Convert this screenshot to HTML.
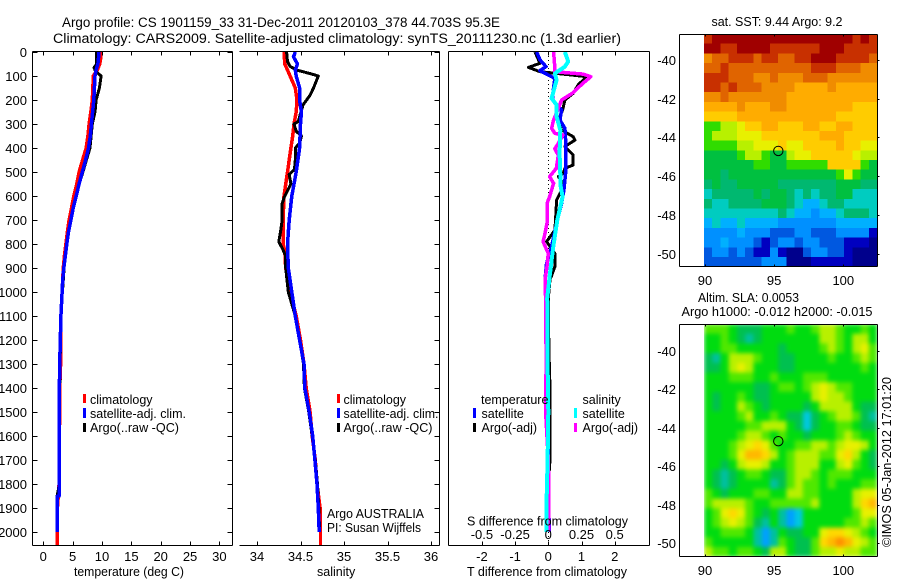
<!DOCTYPE html>
<html lang="en">
<head>
<meta charset="utf-8">
<title>Argo profile 1901159_33</title>
<style>
html,body{margin:0;padding:0;background:#fff;}
svg{display:block;}
text{font-family:"Liberation Sans",Arial,sans-serif;fill:#000;}
.t{font-size:13.5px;}
.a{font-size:13px;}
.l{font-size:12.5px;}
</style>
</head>
<body>
<svg id="chart" width="900" height="580" viewBox="0 0 900 580" xmlns="http://www.w3.org/2000/svg">
<defs>
<clipPath id="slaClip"><rect x="704" y="324" width="173" height="232.7"/></clipPath>
<filter id="slaSmooth" x="-5%" y="-5%" width="110%" height="110%" color-interpolation-filters="sRGB"><feGaussianBlur stdDeviation="2.2"/></filter>
</defs>
<rect x="0" y="0" width="900" height="580" fill="#fff"/>
<text class="t" x="62" y="27" textLength="438" lengthAdjust="spacingAndGlyphs">Argo profile: CS 1901159_33 31-Dec-2011 20120103_378 44.703S 95.3E</text>
<text class="t" x="53" y="43" textLength="568" lengthAdjust="spacingAndGlyphs">Climatology: CARS2009. Satellite-adjusted climatology: synTS_20111230.nc (1.3d earlier)</text>

<g id="heat"></g>
<g id="series"></g>
<g id="axes" stroke="#000" stroke-width="1" shape-rendering="crispEdges" fill="none"></g>
<g id="labels"></g>

<g>
<rect x="83" y="394" width="3" height="9" fill="#ff0000"/>
<rect x="83" y="408" width="3" height="10" fill="#0000ff"/>
<rect x="83" y="423" width="3" height="9" fill="#000"/>
<text class="l" x="90" y="404">climatology</text>
<text class="l" x="90" y="418" textLength="96" lengthAdjust="spacingAndGlyphs">satellite-adj. clim.</text>
<text class="l" x="90" y="432" textLength="89" lengthAdjust="spacingAndGlyphs">Argo(..raw -QC)</text>
</g>
<g>
<rect x="337" y="394" width="3" height="9" fill="#ff0000"/>
<rect x="337" y="408" width="3" height="10" fill="#0000ff"/>
<rect x="337" y="423" width="3" height="9" fill="#000"/>
<text class="l" x="343.5" y="404">climatology</text>
<text class="l" x="343.5" y="418" textLength="95" lengthAdjust="spacingAndGlyphs">satellite-adj. clim.</text>
<text class="l" x="343.5" y="432" textLength="89" lengthAdjust="spacingAndGlyphs">Argo(..raw -QC)</text>
<text class="l" x="327" y="518" textLength="97" lengthAdjust="spacingAndGlyphs">Argo AUSTRALIA</text>
<text class="l" x="327" y="532" textLength="94" lengthAdjust="spacingAndGlyphs">PI: Susan Wijffels</text>
</g>
<g>
<text class="l" x="481" y="404">temperature</text>
<text class="l" x="582.5" y="404">salinity</text>
<rect x="473" y="408" width="3" height="10" fill="#0000ff"/>
<rect x="473" y="423" width="3" height="9" fill="#000"/>
<rect x="574" y="408" width="3" height="10" fill="#00ffff"/>
<rect x="574" y="423" width="3" height="9" fill="#ff00ff"/>
<text class="l" x="481.5" y="418">satellite</text>
<text class="l" x="481.5" y="432">Argo(-adj)</text>
<text class="l" x="582.5" y="418">satellite</text>
<text class="l" x="582.5" y="432">Argo(-adj)</text>
<text class="l" x="467" y="525.5" textLength="161" lengthAdjust="spacingAndGlyphs">S difference from climatology</text>
</g>

<text class="l" x="74" y="576" textLength="110" lengthAdjust="spacingAndGlyphs">temperature (deg C)</text>
<text class="l" x="317" y="576">salinity</text>
<text class="l" x="467" y="576" textLength="160" lengthAdjust="spacingAndGlyphs">T difference from climatology</text>

<text class="l" x="711.5" y="26" textLength="131" lengthAdjust="spacingAndGlyphs">sat. SST: 9.44  Argo: 9.2</text>
<text class="l" x="698" y="302" textLength="101" lengthAdjust="spacingAndGlyphs">Altim. SLA: 0.0053</text>
<text class="l" x="681.5" y="316" textLength="191" lengthAdjust="spacingAndGlyphs">Argo h1000: -0.012 h2000: -0.015</text>
<text class="l" transform="translate(891,547) rotate(-90)" textLength="170" lengthAdjust="spacingAndGlyphs">©IMOS 05-Jan-2012 17:01:20</text>
</svg>

<script>
// ---- Profile data (depth in m) ----
const tempClimDepth = [0,25,50,75,100,150,200,250,300,350,400,450,500,550,600,650,700,750,800,850,900,950,1000,1100,1200,1300,1400,1500,1600,1700,1800,1900,2000,2054];
const tempClim = [9.8,9.8,9.6,9.2,8.5,8.45,8.35,8.1,7.8,7.6,7.3,6.7,6.1,5.7,5.2,4.8,4.4,4.1,3.85,3.6,3.4,3.3,3.2,3.0,2.95,2.95,2.8,2.85,2.7,2.7,2.7,2.4,2.4,2.4];
const tempSatDepth = [0,25,50,75,100,150,200,250,300,350,400,450,500,550,600,650,700,750,800,850,900,950,1000,1100,1200,1300,1400,1500,1600,1700,1850,1851,2000];
const tempSat = [9.4,9.4,9.3,9.0,8.8,8.7,8.6,8.4,8.2,8.0,7.7,7.2,6.65,6.1,5.6,5.1,4.7,4.3,4.0,3.75,3.5,3.3,3.2,3.0,2.9,2.8,2.75,2.7,2.7,2.7,2.7,2.4,2.4];
const tempArgoDepth = [0,50,65,80,100,150,200,250,300,350,400,450,500,550,600,650,700,750,800,850,900,950,1000,1100,1200,1300,1400,1500,1600,1700,1800,1850,1900,2000];
const tempArgo = [9.1,9.1,8.65,8.9,9.85,9.55,9.0,8.8,8.35,8.15,7.95,7.35,6.75,6.1,5.55,5.1,4.7,4.3,4.0,3.75,3.55,3.4,3.25,3.0,2.95,2.85,2.8,2.8,2.8,2.75,2.75,2.35,2.4,2.4];

const salClimDepth = [0,50,75,100,150,200,250,300,350,400,500,600,700,800,830,900,1000,1100,1200,1300,1400,1500,1600,1700,1800,1900,2000,2054];
const salClim = [34.31,34.32,34.35,34.38,34.44,34.46,34.45,34.425,34.41,34.39,34.35,34.31,34.3,34.3,34.32,34.33,34.38,34.45,34.5,34.54,34.565,34.61,34.635,34.67,34.69,34.725,34.73,34.73];
const salSatDepth = [0,20,50,75,100,150,200,250,300,400,500,600,700,800,900,1000,1100,1200,1300,1400,1500,1600,1700,1800,1900,2000];
const salSat = [34.44,34.42,34.465,34.44,34.45,34.49,34.49,34.51,34.5,34.49,34.45,34.4,34.37,34.35,34.36,34.4,34.44,34.49,34.54,34.55,34.6,34.64,34.665,34.69,34.705,34.715];
const salArgoDepth = [0,40,60,75,90,100,150,180,200,220,250,290,300,330,350,380,400,450,490,510,550,600,630,700,750,790,825,850,900,1000,1100,1200,1300,1400,1500,1600,1700,1800,1900,2000];
const salArgo = [34.34,34.35,34.38,34.455,34.61,34.705,34.65,34.61,34.57,34.53,34.505,34.475,34.425,34.45,34.51,34.49,34.44,34.44,34.43,34.37,34.39,34.32,34.29,34.29,34.27,34.25,34.3,34.33,34.33,34.36,34.44,34.49,34.535,34.545,34.595,34.635,34.67,34.695,34.71,34.72];

const diffTArgoDepth = [0,47,64,82,89,103,137,172,200,242,269,290,325,353,367,394,429,471,485,505,519,547,575,617,672,742,790,839,894,950,1026,1100,1300,1400,1600,1700,1800,2000];
const diffTArgo = [-0.4,-0.25,-0.6,-0.25,0.25,1.15,0.9,0.75,0.5,0.43,0.35,0.3,0.4,0.75,0.8,0.5,0.75,0.75,0.5,0.45,0.3,0.45,0.4,0.25,0.23,0.2,-0.05,0.2,0.2,0.05,0,0,0.03,0.05,0.05,0.05,0,0.03];
const diffTSatDepth = [0,33,61,78,110,158,200,242,283,318,367,505,575,631,714,811,881,950,1026,1200,1500,1800,2000];
const diffTSat = [-0.35,-0.25,-0.07,-0.25,0.2,0.15,0.13,0.4,0.35,0.5,0.52,0.52,0.47,0.4,0.25,0.1,-0.05,-0.1,-0.07,-0.03,0,0,0.03];
const diffSArgoDepth = [0,68,82,92,103,131,172,200,235,283,318,339,346,381,403,431,485,519,547,603,631,714,769,790,839,894,950,1026,1100,1300,1400,1500,1700,1850,2000];
const diffSArgo = [0.04,0.05,0.05,0.26,0.32,0.26,0.18,0.1,0.075,0.04,0.025,0.05,0.11,0.075,0.05,0.075,0.06,0.01,0.04,0.01,-0.01,-0.01,-0.03,-0.04,0,-0.01,-0.025,-0.02,-0.02,-0.015,-0.02,-0.02,0,0.005,0.005];
const diffSSatDepth = [0,40,61,89,117,193,221,269,325,422,561,603,700,811,922,1026,1100,1300,1500,1700,1850,2000];
const diffSSat = [0.125,0.15,0.125,0.05,0.0625,0.025,0.0625,0.0625,0.09,0.085,0.093,0.108,0.068,0.038,0.013,-0.008,-0.005,-0.005,0,-0.005,-0.012,-0.012];

// ---- Tick labels ----
const depthTicks = [0,100,200,300,400,500,600,700,800,900,1000,1100,1200,1300,1400,1500,1600,1700,1800,1900,2000];
const tempTicks = [0,5,10,15,20,25,30];
const salTicks = [34,34.5,35,35.5,36];
const salTickLabels = ['34','34.5','35','35.5','36'];
const diffTTicks = [-2,-1,0,1,2];
const diffSTicks = [-0.5,-0.25,0,0.25,0.5];
const lonTicks = [90,95,100];
const latTicks = [-40,-42,-44,-46,-48,-50];
const floatPosition = [95.3,-44.7];

// ---- Map grids: colour level per cell, rows north to south, columns west to east ----
const sstGrid = [
[15,16,16,16,16,16,16,16,16,16,16,16,16,16,16,16,16,16,15,16,15],
[16,16,15,15,16,16,16,16,15,15,15,15,15,15,16,16,16,15,15,15,15],
[13,14,14,15,15,15,14,15,15,14,14,15,15,16,16,16,15,15,15,15,14],
[14,14,15,14,14,14,14,14,14,14,14,14,14,15,15,15,14,14,14,13,13],
[15,15,15,14,14,14,13,13,14,13,13,13,14,14,14,13,13,13,13,13,13],
[15,15,14,15,14,14,14,13,13,13,13,12,12,12,12,13,12,12,12,12,12],
[13,13,14,13,13,13,13,13,13,13,12,12,12,12,12,12,12,12,12,12,12],
[12,12,12,12,13,12,12,12,13,13,12,12,12,12,12,12,12,12,11,11,11],
[11,11,11,11,12,12,12,12,12,12,12,12,12,12,12,12,11,11,11,11,11],
[8,8,9,9,10,11,11,12,12,11,11,11,12,12,11,11,12,12,11,11,11],
[8,9,9,9,10,10,10,11,11,11,11,11,11,11,12,12,12,11,11,11,11],
[8,8,8,8,9,9,10,10,10,11,10,10,11,11,11,11,12,11,11,10,10],
[7,7,7,7,8,9,9,8,7,7,9,10,10,11,11,11,11,11,10,9,9],
[7,7,7,7,7,7,8,8,7,7,8,8,8,8,8,11,11,11,11,8,7],
[7,7,6,7,7,7,7,7,7,7,7,7,7,7,7,7,8,10,8,7,7],
[6,7,6,6,7,7,7,7,7,6,6,6,6,6,6,6,7,7,7,6,6],
[5,6,6,6,6,6,7,6,7,7,6,5,6,5,6,6,7,7,5,5,5],
[6,5,5,6,6,6,6,7,7,7,6,5,4,4,5,6,6,5,5,5,5],
[5,5,5,5,5,5,5,5,5,6,5,4,4,3,4,4,5,6,6,6,5],
[4,5,4,4,5,4,4,4,4,3,3,3,3,3,3,3,4,4,4,4,4],
[3,3,3,3,4,3,3,3,2,2,2,3,3,2,2,2,3,3,3,3,1],
[3,3,4,3,3,3,2,1,2,3,3,2,3,3,2,2,2,1,1,1,0],
[2,3,3,2,3,2,1,1,3,1,0,0,2,3,3,2,2,1,0,0,0],
[2,2,2,2,2,2,2,3,3,3,0,0,0,1,1,1,1,1,0,0,0]
];
const slaGrid = [
[8,8,8,7,6,6,6,7,7,7,8,7,7,8,9,9,8,7,7,8,7],
[7,7,8,7,6,5,6,7,7,7,7,7,7,7,9,9,8,7,9,9,7],
[7,7,8,8,7,7,7,7,7,6,7,7,7,7,8,9,8,7,9,10,8],
[6,5,7,9,9,9,8,7,7,6,6,7,7,7,7,8,7,7,8,9,8],
[6,6,7,9,10,9,7,7,7,6,6,7,7,7,7,7,7,7,7,8,7],
[7,7,7,8,8,8,7,7,8,7,7,7,8,8,8,7,7,7,7,7,7],
[7,7,7,7,7,7,6,6,7,8,8,7,8,9,10,9,8,8,7,7,7],
[7,6,7,7,8,7,6,6,7,7,7,7,7,9,10,9,9,8,7,7,7],
[7,6,7,7,9,8,7,6,7,7,7,7,6,7,9,9,9,9,7,6,6],
[7,7,7,7,8,9,7,7,8,7,6,6,4,6,7,8,9,9,8,6,5],
[7,7,7,7,7,8,8,9,9,9,7,6,4,6,7,7,8,8,7,6,6],
[7,7,7,7,8,9,9,8,7,8,7,7,6,7,7,7,8,9,8,7,7],
[7,7,7,8,9,10,11,10,8,7,7,8,8,9,9,8,9,10,10,9,7],
[7,7,7,8,10,12,12,11,9,7,8,9,9,9,8,8,10,11,9,7,6],
[7,7,6,7,9,10,10,9,7,7,8,9,9,9,7,7,9,10,8,7,6],
[7,6,5,6,7,8,8,7,6,6,8,9,9,8,7,8,8,8,7,7,7],
[7,6,5,6,7,7,7,7,5,6,8,9,8,8,7,8,7,7,7,8,8],
[8,7,6,7,7,7,8,8,7,7,9,9,8,8,7,7,7,7,9,10,10],
[8,9,9,9,9,8,7,7,8,8,8,8,8,9,7,7,7,7,9,11,12],
[7,8,10,11,10,8,7,6,7,5,2,4,7,7,7,7,7,7,8,10,10],
[7,8,9,10,9,8,6,5,7,5,2,4,7,7,7,7,7,8,8,9,8],
[7,7,8,8,8,7,5,2,5,7,6,6,7,7,10,11,11,10,9,8,7],
[8,7,7,7,7,7,5,2,5,8,7,6,6,8,11,12,13,12,10,9,8],
[9,8,8,7,8,8,7,6,9,9,7,6,6,8,9,9,10,9,9,8,8]
];
const sstPalette = ['#00008c','#0000c0','#0058e0','#0090ff','#00b0ff','#00ccc0','#00b870','#00c040','#30dc00','#b8f000','#e8f000','#ffcc00','#ffac00','#f08c00','#e06400','#c83000','#a00000'];
const slaPalette = ['#00008c','#0000c0','#00a0ff','#00b8ff','#00c8e0','#00c0a0','#00c050','#00dc10','#50e800','#b8f000','#e8f000','#ffd800','#ffb800','#ff9000','#d85800','#c02800','#a00000'];

// ---- Axis functions ----
const depthY = d => 52 + 0.24 * d;
const tempX = t => 43.3 + 5.87 * t;
const salX = s => 257 + 87 * (s - 34);
const diffTX = t => 548.3 + 33.2 * t;
const diffSX = s => 548.3 + 132.8 * s;
const lonX = lon => 705 + 13.83 * (lon - 90);
const sstLatY = lat => 60 + 19.35 * (-40 - lat);
const slaLatY = lat => 350.7 + 19.26 * (-40 - lat);

const NS = 'http://www.w3.org/2000/svg';
function make(tag, parent, attrs, text) {
  const el = document.createElementNS(NS, tag);
  for (const k in attrs) el.setAttribute(k, attrs[k]);
  if (text !== undefined) el.textContent = text;
  parent.appendChild(el);
  return el;
}
const seriesG = document.getElementById('series');
const axesG = document.getElementById('axes');
const labelsG = document.getElementById('labels');
const heatG = document.getElementById('heat');

function drawLine(name, depths, values, xFn, color, width) {
  const pts = depths.map((d, i) => xFn(values[i]).toFixed(1) + ',' + depthY(d).toFixed(1)).join(' ');
  const el = make('polyline', seriesG, {points: pts, fill: 'none', stroke: color, 'stroke-width': width, 'stroke-linejoin': 'round', 'shape-rendering': 'crispEdges'});
  
  
}
function seg(name, x1, y1, x2, y2) {
  const el = make('line', axesG, {x1, y1, x2, y2});
  
  
  return el;
}
function label(name, x, y, anchor, str, cls) {
  const el = make('text', labelsG, {x, y, 'text-anchor': anchor, class: cls || 'a'}, str);
  
  
}

// ---- Heatmaps ----
function drawGrid(name, grid, palette, left, top, cellW, cellH, parent) {
  grid.forEach((row, r) => row.forEach((v, c) => {
    const el = make('rect', parent, {x: (left + c * cellW).toFixed(2), y: (top + r * cellH).toFixed(2), width: (cellW + 0.4).toFixed(2), height: (cellH + 0.4).toFixed(2), fill: palette[v]});
    
    
  }));
}
const sstG = make('g', heatG, {'shape-rendering': 'crispEdges'});


drawGrid('sst-cell', sstGrid, sstPalette, 704, 34, 173 / 21, 232.7 / 24, sstG);
const slaClipG = make('g', heatG, {'clip-path': 'url(#slaClip)'});


const slaG = make('g', slaClipG, {filter: 'url(#slaSmooth)'});


drawGrid('sla-cell', slaGrid, slaPalette, 704, 324, 173 / 21, 232.7 / 24, slaG);

// ---- Zero reference sits beneath the difference series ----
const zero = make('line', seriesG, {x1: 548.5, y1: 52, x2: 548.5, y2: 545, stroke: '#000', 'stroke-width': 1, 'stroke-dasharray': '1 3', 'shape-rendering': 'crispEdges'});



// ---- Series ----
drawLine('temperature-climatology', tempClimDepth, tempClim, tempX, '#ff0000', 3.5);
drawLine('temperature-argo', tempArgoDepth, tempArgo, tempX, '#000000', 3);
drawLine('temperature-satellite-adj', tempSatDepth, tempSat, tempX, '#0000ff', 3.5);
drawLine('salinity-climatology', salClimDepth, salClim, salX, '#ff0000', 3.5);
drawLine('salinity-argo', salArgoDepth, salArgo, salX, '#000000', 3);
drawLine('salinity-satellite-adj', salSatDepth, salSat, salX, '#0000ff', 3.5);
drawLine('t-difference-argo', diffTArgoDepth, diffTArgo, diffTX, '#000000', 3);
drawLine('t-difference-satellite', diffTSatDepth, diffTSat, diffTX, '#0000ff', 3.5);
drawLine('s-difference-argo', diffSArgoDepth, diffSArgo, diffSX, '#ff00ff', 3.5);
drawLine('s-difference-satellite', diffSSatDepth, diffSSat, diffSX, '#00ffff', 4);

// ---- Panel frames ----
const top_ = 51.5, bot = 545.5;
seg('temperature-panel-left', 32.5, top_, 32.5, bot);
seg('temperature-panel-right', 232.5, top_, 232.5, bot);
seg('temperature-panel-top', 32.5, top_, 232.5, top_);
seg('temperature-panel-bottom', 32.5, bot, 232.5, bot);
seg('salinity-panel-right', 439.5, top_, 439.5, bot);
seg('salinity-panel-top', 239.5, top_, 439.5, top_);
seg('salinity-panel-bottom', 239.5, bot, 439.5, bot);
seg('difference-panel-left', 448.5, top_, 448.5, bot);
seg('difference-panel-right', 649.5, top_, 649.5, bot);
seg('difference-panel-top', 448.5, top_, 649.5, top_);
seg('difference-panel-bottom', 448.5, bot, 649.5, bot);

// ---- Depth ticks ----
depthTicks.forEach(d => {
  const y = Math.round(depthY(d)) + 0.5;
  seg('depth-tick', 32.5, y, 37.5, y);
  seg('depth-tick', 227.5, y, 232.5, y);
  seg('depth-tick', 434.5, y, 439.5, y);
  label('depth-tick-label', 27, y + 4.5, 'end', String(d));
});
function xTicks(name, ticks, xFn) {
  ticks.forEach(v => {
    const x = Math.round(xFn(v)) + 0.5;
    seg(name, x, top_, x, top_ + 4);
    seg(name, x, bot - 4, x, bot);
  });
}
xTicks('temperature-tick', tempTicks, tempX);
xTicks('salinity-tick', salTicks, salX);
xTicks('t-difference-tick', diffTTicks, diffTX);
tempTicks.forEach(v => label('temperature-tick-label', tempX(v), 561, 'middle', String(v)));
salTicks.forEach((v, i) => label('salinity-tick-label', salX(v), 561, 'middle', salTickLabels[i]));
diffTTicks.forEach(v => label('t-difference-tick-label', diffTX(v), 561, 'middle', String(v)));
diffSTicks.forEach(v => label('s-difference-tick-label', diffSX(v), 539, 'middle', String(v)));

// ---- Map frames, ticks, markers ----
function mapFrame(prefix, top, bottom, latY, lonLabelY) {
  seg(prefix + '-frame-left', 679.5, top, 679.5, bottom);
  seg(prefix + '-frame-right', 877.5, top, 877.5, bottom);
  seg(prefix + '-frame-top', 679.5, top, 877.5, top);
  seg(prefix + '-frame-bottom', 679.5, bottom, 877.5, bottom);
  latTicks.forEach(lat => {
    const y = Math.round(latY(lat)) + 0.5;
    seg(prefix + '-lat-tick', 877.5, y, 879.5, y);
    label(prefix + '-lat-label', 676, y + 4.5, 'end', String(lat));
  });
  lonTicks.forEach(lon => {
    const x = Math.round(lonX(lon)) + 0.5;
    seg(prefix + '-lon-tick', x, top, x, top + 2);
    seg(prefix + '-lon-tick', x, bottom - 2, x, bottom);
    label(prefix + '-lon-label', lonX(lon), lonLabelY, 'middle', String(lon));
  });
  const marker = make('circle', axesG, {cx: lonX(floatPosition[0]).toFixed(1), cy: latY(floatPosition[1]).toFixed(1), r: 4.7, stroke: '#000', fill: 'none', 'shape-rendering': 'auto'});
  
  
}
mapFrame('sst-map', 34.5, 266.5, sstLatY, 285);
mapFrame('sla-map', 324.5, 556.5, slaLatY, 575);
</script>
</body>
</html>
